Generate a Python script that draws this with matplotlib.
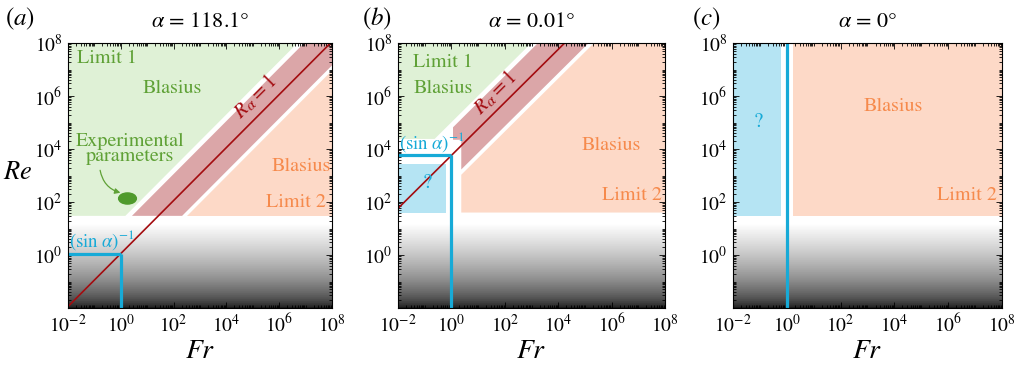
import numpy as np
import matplotlib.pyplot as plt
from matplotlib.markers import MarkerStyle
from matplotlib.transforms import Affine2D
from matplotlib.ticker import FixedLocator, FuncFormatter

plt.rcParams['font.family'] = 'STIXGeneral'
plt.rcParams['mathtext.fontset'] = 'stix'

# ---- values ----
panel_tags = ['(a)', '(b)', '(c)']
alpha_deg = [118.1, 0.01, 0.0]
alpha_txt = ['118.1', '0.01', '0']

fr_min, fr_max = 1e-2, 1e8
re_min, re_max = 1e-2, 1e8
re_floor = [30.0, 40.0, 30.0]          # lower edge of the coloured regimes
band_lo, band_hi = 10**-0.9, 10**1.0   # R_alpha band around R_alpha = 1
green_gap = 10**1.25                   # green regime above R_alpha band
orange_gap = 10**-1.1                  # orange regime below R_alpha band
fr_cut_left = 10**-0.2                 # right edge of "?" regime
fr_cut_right = 10**0.37                # left edge of the regimes right of Fr = 1
re_step_b = 10**4.38                   # panel (b): bottom of green regime
fr_notch_b = 10**0.06                  # panel (b): band notch
re_q_top_b = 10**3.45                  # panel (b): top of "?" box
exp_fr, exp_re = 1.7, 140.0            # experimental parameters

major_dec = [1e-2, 1e0, 1e2, 1e4, 1e6, 1e8]
minor_dec = [k * 10.0**d for d in range(-2, 8) for k in range(1, 10)]

GREEN_F, GREEN_T = '#dff1d6', '#5fa136'
RED_F, RED_L = '#dba6a8', '#a30c10'
ORANGE_F, ORANGE_T = '#fdd9c7', '#f68a4c'
BLUE_F, BLUE_L = '#b5e4f3', '#17aad7'

FAR = 1e14

fig = plt.figure(figsize=(10.19, 3.68), dpi=100)
lefts = [68, 398, 733]
widths = [264, 267, 269]
axes = [fig.add_axes([l / 1019, 60 / 368, w / 1019, 265 / 368]) for l, w in zip(lefts, widths)]

# background gradient (white -> black towards low Re)
re_edges = np.logspace(-2, 1.5, 141)
re_mid = np.sqrt(re_edges[1:] * re_edges[:-1])
shade = np.clip((np.log10(re_mid) + 2) / 3.2, 0, 1) ** 0.6
shade = 0.07 + 0.93 * shade


def fmt(v, pos, skip_low=False):
    d = int(round(np.log10(v)))
    if skip_low and d == -2:
        return ''
    return r'$10^{%d}$' % d


for i, ax in enumerate(axes):
    ax.set_xscale('log')
    ax.set_yscale('log')
    ax.set_xlim(fr_min, fr_max)
    ax.set_ylim(re_min, re_max)

    ax.pcolormesh([fr_min, fr_max], re_edges, shade[:, None], cmap='gray',
                  vmin=0, vmax=1, shading='flat', zorder=0)

    fl = re_floor[i]
    if alpha_deg[i] > 0:
        c = 1.0 / np.sin(np.radians(alpha_deg[i]))
    else:
        c = None

    if i == 0:
        # green
        ax.fill([1e-4, fl / (c * green_gap), FAR / (c * green_gap), 1e-4],
                [fl, fl, FAR, FAR], color=GREEN_F, lw=0, zorder=1)
        # band
        ax.fill([fl / (c * band_hi), fl / (c * band_lo), FAR, FAR],
                [fl, fl, FAR * c * band_lo, FAR * c * band_hi],
                color=RED_F, lw=0, zorder=1)
        # orange
        ax.fill([fl / (c * orange_gap), FAR, FAR], [fl, fl, FAR * c * orange_gap],
                color=ORANGE_F, lw=0, zorder=1)
    elif i == 1:
        g0 = re_step_b
        ax.fill([1e-4, g0 / (c * green_gap), FAR / (c * green_gap), 1e-4],
                [g0, g0, FAR, FAR], color=GREEN_F, lw=0, zorder=1)
        xc, xn = fr_cut_right, fr_notch_b
        ax.fill([xc, FAR, FAR, xn, xn, xc],
                [xc * c * band_lo, FAR * c * band_lo, FAR * c * band_hi,
                 xn * c * band_hi, re_step_b * 0.93, re_step_b * 0.93],
                color=RED_F, lw=0, zorder=1)
        ax.fill([xc, FAR, FAR, xc], [fl, fl, FAR * c * orange_gap, xc * c * orange_gap],
                color=ORANGE_F, lw=0, zorder=1)
        ax.fill([1e-4, fr_cut_left, fr_cut_left, 1e-4], [fl, fl, re_q_top_b, re_q_top_b],
                color=BLUE_F, lw=0, zorder=1)
    else:
        ax.fill([1e-4, 10**-0.22, 10**-0.22, 1e-4], [fl, fl, FAR, FAR],
                color=BLUE_F, lw=0, zorder=1)
        ax.fill([10**0.23, FAR, FAR, 10**0.23], [fl, fl, FAR, FAR],
                color=ORANGE_F, lw=0, zorder=1)

    # R_alpha = 1 line and the Fr = 1, Re = 1/sin(alpha) lines
    if c is not None:
        ax.plot([fr_min, fr_max], [fr_min * c, fr_max * c], color=RED_L, lw=1.2, zorder=3)
        ax.plot([fr_min, 1.0], [c, c], color=BLUE_L, lw=2.3, zorder=4,
                solid_capstyle='butt')
        ax.plot([1.0, 1.0], [re_min, c], color=BLUE_L, lw=2.3, zorder=4,
                solid_capstyle='butt')
        ax.text(fr_min * 1.1, c * 1.12, r'$(\sin\,\alpha)^{-1}$', color=BLUE_L,
                fontsize=13.5, ha='left', va='bottom', zorder=5)
    else:
        ax.plot([1.0, 1.0], [re_min, re_max], color=BLUE_L, lw=2.3, zorder=4)

    ax.xaxis.set_major_locator(FixedLocator(major_dec))
    ax.yaxis.set_major_locator(FixedLocator(major_dec))
    ax.xaxis.set_minor_locator(FixedLocator(minor_dec))
    ax.yaxis.set_minor_locator(FixedLocator(minor_dec))
    ax.xaxis.set_major_formatter(FuncFormatter(fmt))
    ax.yaxis.set_major_formatter(FuncFormatter(lambda v, p: fmt(v, p, True)))
    ax.xaxis.set_minor_formatter(FuncFormatter(lambda v, p: ''))
    ax.yaxis.set_minor_formatter(FuncFormatter(lambda v, p: ''))
    ax.tick_params(which='both', direction='in', top=True, right=True,
                   labelsize=14, width=0.6, pad=4)
    ax.tick_params(which='major', length=4)
    ax.tick_params(which='minor', length=2)
    for s in ax.spines.values():
        s.set_linewidth(0.8)
        s.set_zorder(6)

    ax.set_xlabel(r'$Fr$', fontsize=20, labelpad=2)
    ax.text(0.5, 1.08, r'$\alpha$ = ' + alpha_txt[i] + '°', transform=ax.transAxes,
            ha='center', va='center', fontsize=16)

# panel tags
for tag, x in zip(panel_tags, [5, 362, 692]):
    fig.text(x / 1019, 1 - 19 / 368, '$' + tag + '$', fontsize=18,
             ha='left', va='center')

axes[0].set_ylabel(r'$Re$', fontsize=19, rotation=0, ha='center', va='center')
axes[0].yaxis.set_label_coords(-0.19, 0.51)

# ---- labels, panel (a) ----
a = axes[0]
a.text(10**-1.66, 10**7.43, 'Limit 1', color=GREEN_T, fontsize=14.5, va='center', zorder=5)
a.text(10**1.94, 10**6.3, 'Blasius', color=GREEN_T, fontsize=14.5, ha='center', va='center', zorder=5)
a.text(10**0.35, 10**4.0, 'Experimental\nparameters', color=GREEN_T, fontsize=14.5,
       ha='center', va='center', linespacing=0.8, zorder=5)
a.plot([exp_fr], [exp_re], ls='none', color='#4f9a2c', ms=8,
       marker=MarkerStyle('o', transform=Affine2D().scale(1.6, 1.0)), zorder=5)
a.annotate('', xy=(exp_fr * 0.72, exp_re * 1.5), xytext=(10**-0.8, 10**3.3),
           arrowprops=dict(arrowstyle='-|>', color=GREEN_T, lw=0.9,
                           mutation_scale=8, connectionstyle='arc3,rad=0.35'), zorder=5)
a.text(10**6.83, 10**3.36, 'Blasius', color=ORANGE_T, fontsize=14.5, ha='center', va='center', zorder=5)
a.text(10**6.64, 10**2.0, 'Limit 2', color=ORANGE_T, fontsize=14.5, ha='center', va='center', zorder=5)
a.text(10**5.08, 10**5.96, r'$R_\alpha = 1$', color=RED_L, fontsize=15, rotation=45,
       ha='center', va='center', zorder=5)

# ---- labels, panel (b) ----
b = axes[1]
b.text(10**-0.31, 10**7.28, 'Limit 1', color=GREEN_T, fontsize=14.5, ha='center', va='center', zorder=5)
b.text(10**-0.31, 10**6.3, 'Blasius', color=GREEN_T, fontsize=14.5, ha='center', va='center', zorder=5)
b.text(10**6.0, 10**4.15, 'Blasius', color=ORANGE_T, fontsize=14.5, ha='center', va='center', zorder=5)
b.text(10**6.76, 10**2.26, 'Limit 2', color=ORANGE_T, fontsize=14.5, ha='center', va='center', zorder=5)
b.text(10**-0.91, 10**2.72, '?', color=BLUE_L, fontsize=15, ha='center', va='center', zorder=5)
b.text(10**1.63, 10**6.11, r'$R_\alpha = 1$', color=RED_L, fontsize=15, rotation=45,
       ha='center', va='center', zorder=5)

# ---- labels, panel (c) ----
cx = axes[2]
cx.text(10**-1.07, 10**5.0, '?', color=BLUE_L, fontsize=15, ha='center', va='center', zorder=5)
cx.text(10**3.98, 10**5.6, 'Blasius', color=ORANGE_T, fontsize=14.5, ha='center', va='center', zorder=5)
cx.text(10**6.68, 10**2.26, 'Limit 2', color=ORANGE_T, fontsize=14.5, ha='center', va='center', zorder=5)

fig.savefig('out.png', dpi=100)
